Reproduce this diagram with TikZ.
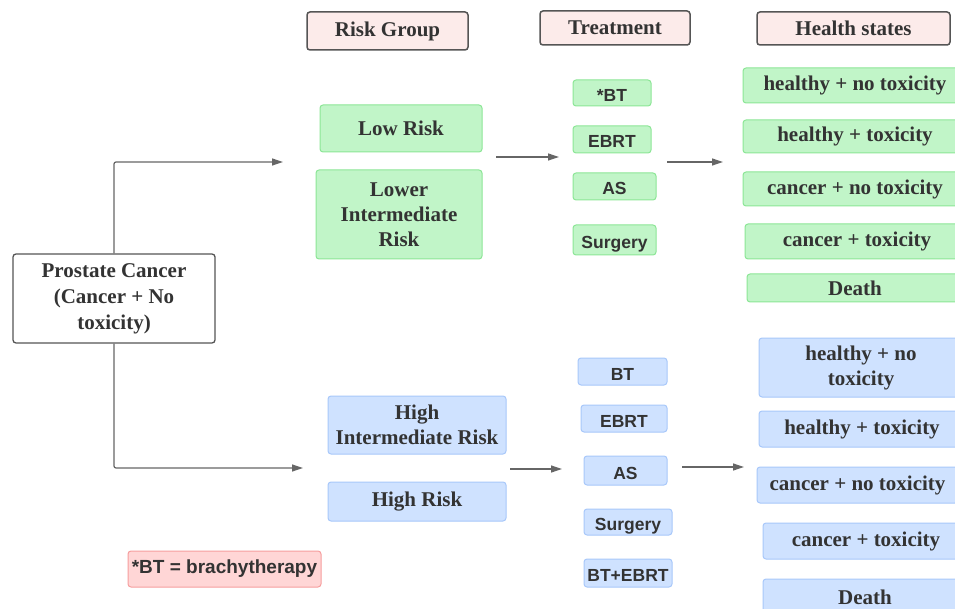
\documentclass[tikz,border=0pt]{standalone}
\usepackage{fontspec}
\setmainfont{Liberation Serif}
\newfontfamily\sansfam{Liberation Sans}
\usetikzlibrary{arrows.meta}

\definecolor{txt}{HTML}{333333}
\definecolor{hdrfill}{HTML}{FCEBEA}
\definecolor{hdrline}{HTML}{555555}
\definecolor{gfill}{RGB}{193,245,200}
\definecolor{gline}{RGB}{140,230,150}
\definecolor{bfill}{RGB}{207,226,255}
\definecolor{bline}{RGB}{168,200,250}
\definecolor{lfill}{RGB}{255,214,214}
\definecolor{lline}{RGB}{246,158,158}
\definecolor{conncol}{HTML}{666666}

\tikzset{
  base/.style={rounded corners=3pt, inner sep=0pt, align=center, text=txt,
    font=\fontsize{21}{25}\selectfont\bfseries},
  hdr/.style={base, draw=hdrline, fill=hdrfill, line width=1.5pt},
  root/.style={base, draw=hdrline, fill=white, line width=1.3pt,
    font=\fontsize{21}{26}\selectfont\bfseries},
  gbox/.style={base, draw=gline, fill=gfill, line width=1pt},
  bbox/.style={base, draw=bline, fill=bfill, line width=1pt},
  trt/.style={font=\sansfam\fontsize{17.5}{20}\selectfont\bfseries,
    text height=17pt, text depth=0pt},
  legendbox/.style={base, draw=lline, fill=lfill, line width=1pt,
    font=\sansfam\fontsize{19}{22}\selectfont\bfseries},
  conn/.style={draw=conncol, line width=1.2pt, rounded corners=2pt,
    -{Triangle[length=11pt,width=7pt]}},
}

\newcommand{\boxat}[6]{% style, name, cx, cy, w, h ; text follows
  \node[#1, minimum width=#5pt, minimum height=#6pt] (#2) at (#3,#4)}

\begin{document}
\begin{tikzpicture}[x=1pt,y=-1pt]
\path[use as bounding box, clip] (0,0) rectangle (955,609);
\fill[white] (0,0) rectangle (955,609);

% column headers
\boxat{hdr}{rg}{387.5}{31}{161}{38} {Risk Group};
\boxat{hdr}{tr}{615}{28}{150}{34} {Treatment};
\boxat{hdr}{hs}{853.5}{28.5}{193}{33} {Health states};

% starting state
\boxat{root}{pc}{114}{298.5}{202}{89} {Prostate Cancer\\(Cancer + No\\toxicity)};

% lower-risk branch
\boxat{gbox}{low}{401}{128.5}{162}{47} {Low Risk};
\boxat{gbox}{lowint}{399}{214.5}{166}{89} {Lower\\Intermediate\\Risk};

\boxat{gbox,trt}{gbt}{612}{93}{78}{26} {*BT};
\boxat{gbox,trt}{gebrt}{612}{139.5}{78}{27} {EBRT};
\boxat{gbox,trt}{gas}{614.5}{186.5}{83}{27} {AS};
\boxat{gbox,trt}{gsur}{614.5}{240}{83}{30} {Surgery};

\boxat{gbox}{ghn}{855}{85.5}{224}{35} {healthy + no toxicity};
\boxat{gbox}{ght}{855}{136.5}{224}{33} {healthy + toxicity};
\boxat{gbox}{gcn}{855}{189}{224}{34} {cancer + no toxicity};
\boxat{gbox}{gct}{857}{241.5}{224}{35} {cancer + toxicity};
\boxat{gbox}{gd}{855}{288}{216}{28} {Death};

% higher-risk branch
\boxat{bbox}{hir}{417}{425}{178}{58} {High\\Intermediate Risk};
\boxat{bbox}{hr}{417}{501.5}{178}{39} {High Risk};

\boxat{bbox,trt}{bbt}{622.5}{371.5}{89}{27} {BT};
\boxat{bbox,trt}{bebrt}{624}{418.5}{86}{27} {EBRT};
\boxat{bbox,trt}{bas}{625.5}{470.5}{83}{29} {AS};
\boxat{bbox,trt}{bsur}{628}{522}{88}{26} {Surgery};
\boxat{bbox,trt}{bbe}{628}{573}{88}{28} {BT+EBRT};

\boxat{bbox}{bhn}{861}{367.5}{204}{59} {healthy + no\\toxicity};
\boxat{bbox}{bht}{862}{429}{206}{36} {healthy + toxicity};
\boxat{bbox}{bcn}{857.5}{485}{201}{36} {cancer + no toxicity};
\boxat{bbox}{bct}{866}{541}{206}{36} {cancer + toxicity};
\boxat{bbox}{bd}{865}{597}{204}{36} {Death};

% legend
\boxat{legendbox}{leg}{224.5}{569}{193}{36} {*BT = brachytherapy};

% connector end points
\coordinate (lowin) at (283,162);
\coordinate (highin) at (303,468);
\coordinate (grs) at (496,157);
\coordinate (gre) at (559,157);
\coordinate (gts) at (667,162);
\coordinate (gte) at (723,162);
\coordinate (brs) at (510,469);
\coordinate (bre) at (562,469);
\coordinate (bts) at (682,467);
\coordinate (bte) at (744,467);

% connectors
\draw[conn] (pc.north) |- (lowin);
\draw[conn] (pc.south) |- (highin);
\draw[conn] (grs) -- (gre);
\draw[conn] (gts) -- (gte);
\draw[conn] (brs) -- (bre);
\draw[conn] (bts) -- (bte);
\end{tikzpicture}
\end{document}
